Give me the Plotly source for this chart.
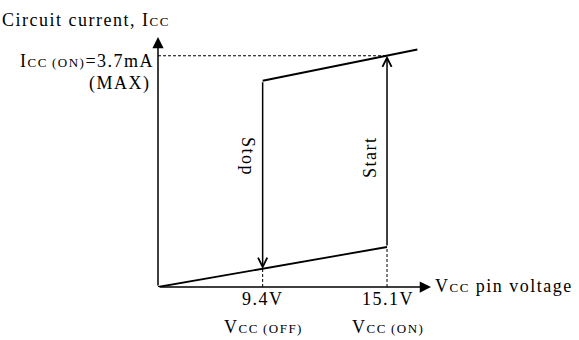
import plotly.graph_objects as go

# ---- schematic data (x in schematic units, y in mA) ----
x_axis_end = 18.0
y_axis_end = 4.0
x_off_pos = 6.9          # position of V_CC(OFF) on the schematic axis
x_on_pos = 15.1          # position of V_CC(ON) on the schematic axis
x_tick_labels = ["9.4V", "15.1V"]
SUB = "<span style='font-size:13px'>{}</span>"
x_sub_labels = ["V" + SUB.format("CC\u2009(OFF)"),
                "V" + SUB.format("CC\u2009(ON)")]
icc_on = 3.7             # I_CC(ON) max, mA

lower_x = [0.0, x_on_pos]
lower_y = [0.0, 0.64]
upper_x = [x_off_pos, 17.1]
upper_y = [3.30, 3.80]
stop_from, stop_to = 3.30, 0.29
start_from, start_to = 0.64, icc_on

# ---- layout geometry (pixels) ----
W, H = 579, 340
ML, MR, MT, MB = 158, 148, 37, 53
PW, PH = W - ML - MR, H - MT - MB


def px_x(px):
    return (px - ML) / PW


def px_y(py):
    return (H - MB - py) / PH


FONT = "Liberation Serif, Times New Roman, serif"
BLACK = "#000000"

fig = go.Figure()

# solid curves
fig.add_trace(go.Scatter(x=lower_x, y=lower_y, mode="lines",
                         line=dict(color=BLACK, width=1.8), hoverinfo="skip"))
fig.add_trace(go.Scatter(x=upper_x, y=upper_y, mode="lines",
                         line=dict(color=BLACK, width=1.8), hoverinfo="skip"))

# dashed guides
dash = dict(color=BLACK, width=1, dash="3px,2px")
fig.add_trace(go.Scatter(x=[0, x_on_pos], y=[icc_on, icc_on], mode="lines",
                         line=dash, hoverinfo="skip"))
fig.add_trace(go.Scatter(x=[x_off_pos, x_off_pos], y=[0, stop_to], mode="lines",
                         line=dash, hoverinfo="skip"))
fig.add_trace(go.Scatter(x=[x_on_pos, x_on_pos], y=[0, start_from], mode="lines",
                         line=dash, hoverinfo="skip"))

ann = []


def arrow(x0, y0, x1, y1, head, size, width):
    ann.append(dict(x=x1, y=y1, ax=x0, ay=y0, xref="x", yref="y",
                    axref="x", ayref="y", text="", showarrow=True,
                    arrowhead=head, arrowsize=size, arrowwidth=width,
                    arrowcolor=BLACK, standoff=0, startstandoff=0))


# axes with filled arrow heads
arrow(0, 0, x_axis_end, 0, 2, 1.5, 1.5)
arrow(0, 0, 0, y_axis_end, 2, 1.5, 1.5)
# Stop / Start transitions with open heads
arrow(x_off_pos, stop_from, x_off_pos, stop_to, 5, 1.2, 1.5)
arrow(x_on_pos, start_from, x_on_pos, start_to, 5, 1.2, 1.5)


def label(text, px, py, xanchor="center", yanchor="middle", angle=0, size=18):
    ann.append(dict(x=px_x(px), y=px_y(py), xref="paper", yref="paper",
                    text="<span style='letter-spacing:1.5px'>" + text + "</span>",
                    showarrow=False, xanchor=xanchor, yanchor=yanchor,
                    textangle=angle, font=dict(family=FONT, size=size, color=BLACK)))


label("Circuit current, I" + SUB.format("CC"), 0, 20, xanchor="left")
label("I" + SUB.format("CC\u2009(ON)") + "=3.7mA", 156, 61, xanchor="right")
label("(MAX)", 153, 83, xanchor="right")
label(x_tick_labels[0], 263, 299)
label(x_tick_labels[1], 388, 299)
label(x_sub_labels[0], 263, 327)
label(x_sub_labels[1], 388, 327)
label("V" + SUB.format("CC") + " pin voltage", 433, 286, xanchor="left")
label("Stop", 248, 156, angle=90)
label("Start", 370, 157, angle=-90)

fig.update_layout(
    width=W, height=H,
    margin=dict(l=ML, r=MR, t=MT, b=MB, pad=0),
    paper_bgcolor="white", plot_bgcolor="white",
    showlegend=False,
    xaxis=dict(range=[0, x_axis_end], visible=False, fixedrange=True),
    yaxis=dict(range=[0, y_axis_end], visible=False, fixedrange=True),
    annotations=ann,
)

fig.write_html("out.html", config={"displayModeBar": False},
               post_script="document.body.style.margin='0px';")
